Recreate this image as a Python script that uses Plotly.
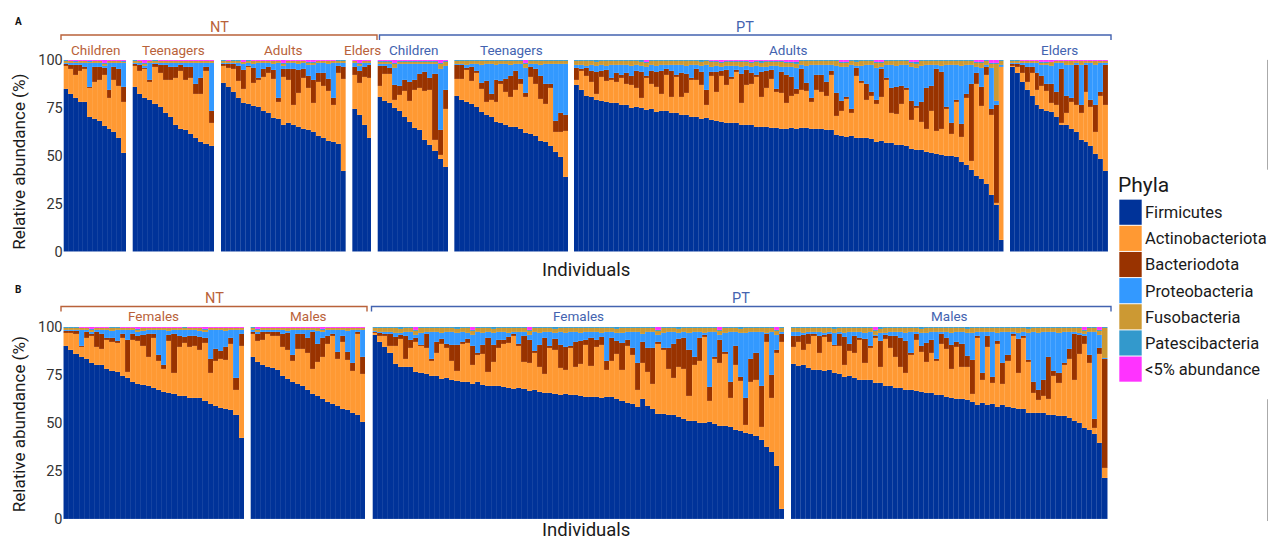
import plotly.graph_objects as go

# ---------------------------------------------------------------- data
PHYLA = ["Firmicutes", "Actinobacteriota", "Bacteriodota", "Proteobacteria",
         "Fusobacteria", "Patescibacteria", "<5% abundance"]
PHYLA_COLORS = ["#003399", "#FF9933", "#993300", "#3399FF", "#CC9933", "#3399CC", "#FF33FF"]

# Panel A: facets by cohort and age group
A_COHORTS = ["NT", "NT", "NT", "NT", "PT", "PT", "PT", "PT"]
A_GROUPS = ["Children", "Teenagers", "Adults", "Elders", "Children", "Teenagers", "Adults", "Elders"]

A_FIRMICUTES = [
    [85, 82, 80, 78, 78, 70, 69, 68, 66, 64, 62, 59, 51],
    [86, 82, 81, 79, 77, 75, 72, 70, 66, 64, 63, 61, 59, 57, 56, 55],
    [88, 86, 83, 80, 78, 77, 76, 75, 73, 72, 70, 69, 67, 67, 66, 65, 64, 64, 63, 60, 59, 58, 57, 56, 42],
    [74, 72, 66, 59],
    [80, 78, 77, 75, 73, 70, 67, 64, 63, 58, 55, 52, 48, 44],
    [81, 79, 78, 77, 75, 73, 71, 70, 68, 67, 66, 65, 65, 64, 63, 61, 60, 58, 57, 55, 52, 49, 39],
    [87, 85, 82, 81, 80, 79, 79, 78, 78, 77,
     77, 76, 76, 76, 75, 75, 74, 74, 74, 73,
     73, 72, 72, 71, 71, 70, 70, 70, 69, 69,
     68, 68, 68, 67, 67, 67, 66, 66, 66, 65,
     65, 65, 65, 65, 65, 64.5, 64.5, 64, 64, 64,
     63.5, 63.5, 61, 61, 60.5, 60, 60, 59.5, 59, 58.5,
     58, 58, 57, 56.5, 56, 55.5, 55, 54, 53.5, 53,
     52, 51.5, 51, 50.5, 50, 49.5, 49, 47, 45, 42.5,
     40, 38, 35, 30, 24, 6],
    [96, 93, 88, 84, 81, 76, 75, 74, 73, 70, 66, 66, 64, 62, 58, 57, 55, 51, 48, 42],
]
A_ACTINO = [
    [12, 13, 12, 16, 17, 15, 19, 21, 27, 16, 27, 27, 26],
    [11, 12, 15, 9, 19, 18, 17, 19, 24, 30, 26, 29, 23, 25, 38, 12],
    [9, 10, 12, 9, 7, 19, 12, 14, 18, 21, 20, 9, 25, 22, 10, 18, 26, 22, 15, 28, 27, 26, 19, 37, 48],
    [18, 17, 25, 31],
    [6, 14, 15, 4, 8, 13, 11, 20, 22, 25, 29, 6, 2, 30],
    [9, 11, 17, 12, 18, 12, 7, 9, 10, 20, 17, 16, 19, 23, 19, 30, 27, 22, 20, 30, 10, 13, 24],
    [3, 10, 11, 8, 3, 13, 11, 12, 11, 14,
     11, 12, 10, 5, 17, 13, 13, 9, 19, 8,
     19, 9, 12, 19, 19, 18, 7, 23, 15, 24,
     20, 23, 27, 12, 21, 22, 26, 16, 21, 26,
     19, 19, 14, 17, 18, 19.5, 19.5, 14, 20, 19,
     17.5, 28.5, 10, 13, 19.5, 12, 33, 28.5, 20, 22.5,
     20, 23, 33, 15.5, 16, 21.5, 29, 15, 22.5, 15,
     12, 21.5, 12, 13.5, 24, 11.5, 29, 13, 35, 4.5,
     48, 38, 57, 42, 1, 89],
    [1, 3, 5, 4, 12, 8, 12, 10, 5, 6, 1, 6, 14, 14, 14, 26, 20, 11, 33, 34],
]
A_BACTERIODOTA = [
    [1, 2, 5, 3, 1, 1, 8, 7, 4, 4, 7, 9, 8],
    [1, 3, 1, 1, 2, 4, 8, 7, 6, 3, 7, 6, 5, 8, 2, 6],
    [1, 2, 3, 8, 10, 1, 8, 1, 4, 3, 5, 2, 4, 6, 19, 12, 5, 6, 12, 5, 7, 6, 4, 4, 6],
    [4, 6, 5, 7],
    [10, 4, 3, 8, 5, 6, 10, 5, 7, 10, 6, 34, 13, 10],
    [7, 7, 1, 7, 1, 3, 11, 3, 12, 2, 7, 11, 10, 3, 2, 5, 8, 12, 10, 2, 6, 10, 8],
    [6, 1, 4, 6, 12, 3, 6, 1, 5, 2,
     6, 5, 9, 14, 1, 7, 8, 12, 3, 14,
     1, 13, 10, 1, 6, 7, 8, 2, 11, 3,
     8, 1, 1, 15, 8, 6, 1, 13, 9, 5,
     2, 11, 15, 10, 3, 11, 4, 2, 8, 9,
     7, 2, 12, 5, 1, 2, 4, 1, 8, 2,
     2, 15, 1, 13, 14, 9, 1, 10, 1, 10,
     21, 13, 32, 30, 1, 6, 1, 7, 2, 40,
     6, 10, 4, 3, 51, 0],
    [1, 2, 4, 8, 3, 9, 5, 4, 10, 7, 28, 9, 2, 21, 4, 14, 4, 14, 2, 21],
]
A_PROTEO = [
    [0.5, 1, 1, 1, 2, 12, 2, 2, 1, 14, 2, 3, 12],
    [0.5, 1, 1, 9, 0.5, 1, 1, 2, 2, 1, 2, 2, 11, 8, 2, 25],
    [0.5, 0.5, 0.5, 1.5, 3, 1.5, 2, 8, 3, 2, 3, 18, 2, 3, 3, 3, 3, 6, 8, 5, 5, 8, 18, 1.5, 2.5],
    [2, 3, 2, 1],
    [1, 1, 2, 9, 11, 8, 9, 8, 5, 4, 7, 5, 32, 12],
    [0.5, 0.5, 1.5, 1.5, 3.5, 9.5, 8.5, 15.5, 7.5, 8.5, 7.5, 5.5, 3.5, 7.5, 13.5, 1.5, 2.5, 5.5, 10.5, 10.5, 29.5, 25.5, 26.5],
    [1.5, 2, 1, 3, 3, 3, 2, 7, 4, 5,
     4, 5, 3, 3, 5, 3, 3, 3, 2, 3,
     5, 4, 4, 7, 2, 3, 13, 3, 3, 2,
     2, 6, 2, 4, 2, 3, 5, 3, 2, 2,
     12, 3, 4, 5, 11, 2, 9, 17, 5, 5,
     9, 3, 14, 18, 16, 23, 1, 8, 10, 14,
     17, 1, 7, 12, 11, 11, 12, 18, 20, 19,
     12, 11, 2, 3, 22, 30, 18, 30, 15, 10,
     3, 10, 1, 22, 2, 1],
    [0.5, 0.5, 1, 2, 2, 5, 6, 10, 9, 15, 3, 16, 17, 1, 21, 1, 19, 21, 15, 1],
]
A_FUSO = [
    [1, 1, 1, 1, 1, 1, 1, 1, 1, 1, 1, 1, 1],
    [1, 1, 1, 1, 1, 1, 1, 1, 1, 1, 1, 1, 1, 1, 1, 1],
    [1, 1, 1, 1, 1, 1, 1.5, 1, 1, 1, 1.5, 1, 1, 1, 1, 1.5, 1, 1, 1, 1, 1, 1.5, 1, 1, 1],
    [1, 1, 1, 1],
    [1.5, 1.5, 1.5, 2, 1.5, 1.5, 1.5, 1.5, 1.5, 1.5, 1.5, 1.5, 2.5, 2.5],
    [1.5, 1.5, 2, 1.5, 1.5, 2, 1.5, 1.5, 2, 1.5, 1.5, 2, 1.5, 1.5, 2, 1.5, 1.5, 2, 1.5, 1.5, 1.5, 1.5, 1.5],
    [2, 2, 2.5, 2, 2, 2, 2.5, 2, 2, 2,
     2, 2.5, 2, 2, 2, 2, 2.5, 2, 2, 2,
     2, 2, 2.5, 2, 2, 2, 2, 2.5, 2, 2,
     2, 2, 2, 2.5, 2, 2, 2, 2, 2.5, 2,
     2, 2.5, 2, 2, 2, 2, 2.5, 2, 2, 2,
     2, 2, 2.5, 2, 2, 2, 2, 2.5, 2, 2,
     2.5, 2, 2, 2, 2.5, 2, 2, 2, 2, 2.5,
     2, 2, 2, 2.5, 2, 2, 2, 2.5, 2, 2,
     2, 2.5, 2, 2, 19, 2],
    [1, 1, 1, 1, 1, 1, 1, 1, 2, 1, 1, 2, 2, 1, 2, 1, 1, 2, 1, 1],
]
A_PATESCI = [
    [0.3, 0.3, 0.5, 0.3, 0.3, 0.5, 0.3, 0.3, 0.5, 0.3, 0.3, 0.3, 0.5],
    [0.3, 0.3, 0.3, 0.3, 0.3, 0.3, 0.3, 0.3, 0.3, 0.3, 0.3, 0.3, 0.3, 0.3, 0.3, 0.3],
    [0.3, 0.3, 0.3, 0.3, 0.3, 0.3, 0.3, 0.3, 0.3, 0.3, 0.3, 0.3, 0.3, 0.3, 0.3, 0.3, 0.3, 0.3, 0.3, 0.3, 0.3, 0.3, 0.3, 0.3, 0.3],
    [0.3, 0.3, 0.3, 0.3],
    [0.5, 0.5, 0.5, 0.5, 0.5, 0.5, 0.5, 0.5, 0.5, 0.5, 0.5, 0.5, 0.5, 0.5],
    [0.5, 0.5, 0.5, 0.5, 0.5, 0.5, 0.5, 0.5, 0.5, 0.5, 0.5, 0.5, 0.5, 0.5, 0.5, 0.5, 0.5, 0.5, 0.5, 0.5, 0.5, 0.5, 0.5],
    [0.5, 0.5, 0.5, 0.5, 1, 0.5, 0.5, 0.5, 0.5, 0.5,
     0.5, 0.5, 0.5, 1, 0.5, 0.5, 0.5, 0.5, 0.5, 0.5,
     0.5, 0.5, 0.5, 0.5, 0.5, 1, 0.5, 0.5, 0.5, 0.5,
     0.5, 0.5, 0.5, 0.5, 0.5, 0.5, 0.5, 1, 0.5, 0.5,
     0.5, 0.5, 0.5, 0.5, 1, 0.5, 0.5, 0.5, 0.5, 0.5,
     0.5, 0.5, 0.5, 0.5, 0.5, 0.5, 1, 0.5, 0.5, 0.5,
     0.5, 0.5, 0.5, 0.5, 0.5, 0.5, 0.5, 0.5, 1, 0.5,
     0.5, 0.5, 0.5, 0.5, 0.5, 0.5, 0.5, 0.5, 0.5, 0.5,
     0.5, 0.5, 0.5, 0.5, 0.5, 0.5],
    [0.3, 0.3, 0.3, 0.3, 0.3, 0.3, 0.3, 0.3, 0.3, 0.3, 0.3, 0.3, 0.3, 0.3, 0.3, 0.3, 0.3, 0.3, 0.3, 0.3],
]
A_OTHER = [
    [0.1, 0.3, 0.3, 0.3, 0.3, 0.3, 0.3, 0.3, 1.5, 0.3, 0.3, 0.3, 0.3],
    [0.1, 0.3, 1.7, 0.3, 0.1, 0.3, 0.3, 0.3, 0.3, 0.3, 0.3, 0.3, 0.3, 0.3, 0.3, 0.3],
    [0.1, 0.3, 0.1, 0.1, 1, 0.1, 0.3, 0.3, 0.3, 0.3, 0.3, 0.3, 1.7, 0.3, 0.3, 0.3, 0.3, 1.2, 1.2, 0.3, 0.3, 0.3, 0.3, 0.1, 0.1],
    [0.3, 1.7, 0.3, 0.3],
    [0.3, 0.3, 0.3, 1.5, 0.3, 0.3, 0.3, 0.3, 0.3, 0.3, 0.3, 0.3, 1.5, 0.3],
    [0.2, 0.2, 0.2, 0.2, 0.2, 0.2, 0.2, 0.2, 0.2, 0.2, 0.2, 0.2, 0.2, 0.2, 1.5, 0.2, 0.2, 0.2, 0.2, 0.2, 0.2, 0.2, 0.2],
    [0.2, 0.2, 0.2, 0.2, 0.2, 0.2, 0.2, 0.2, 0.2, 0.2,
     0.2, 0.2, 0.2, 0.2, 1.2, 0.2, 0.2, 0.2, 0.2, 0.2,
     0.2, 0.2, 0.2, 0.2, 0.2, 0.2, 0.2, 0.6, 0.6, 1.2,
     0.6, 0.6, 0.6, 0.6, 0.6, 1.2, 0.6, 0.6, 0.6, 0.6,
     0.6, 0.6, 1.2, 1.2, 1.2, 0.2, 0.2, 0.2, 0.2, 0.2,
     0.2, 0.2, 0.2, 1.2, 1.2, 0.2, 0.2, 0.2, 0.2, 0.2,
     1.2, 1.2, 0.2, 0.2, 0.2, 0.2, 0.2, 1.2, 1.2, 0.2,
     0.2, 0.2, 0.2, 0.2, 0.2, 0.2, 0.2, 0.2, 0.2, 0.2,
     1.2, 1.2, 0.2, 1.5, 1.5, 0.2],
    [0.1, 0.1, 0.3, 0.3, 0.3, 0.3, 1.2, 1.2, 1, 0.3, 0.3, 0.3, 0.3, 0.3, 0.3, 0.3, 0.3, 0.3, 0.3, 0.3],
]

# Panel B: facets by cohort and sex
B_COHORTS = ["NT", "NT", "PT", "PT"]
B_GROUPS = ["Females", "Males", "Females", "Males"]

B_FIRMICUTES = [
    [90, 88, 86, 84, 83, 81.5, 80, 79.5, 78, 77.5,
     76.5, 74, 73, 71, 70.5, 70, 69, 68, 67, 66,
     65.5, 64.5, 64, 63.5, 63, 63, 62.5, 62, 59.5, 58.5,
     57.5, 57, 56, 54, 42],
    [84.5, 82.5, 80.5, 79.5, 78.5, 77.5, 74, 73, 71, 70,
     69, 67.5, 64.5, 64, 62.5, 60.5, 59.5, 58, 57, 56.5,
     54.5, 53.5, 50.5],
    [96, 93.5, 90, 86, 81.5, 79.5, 79, 78.5, 77.5, 76.5,
     75.5, 75, 74.5, 74, 73.5, 73, 72.5, 72, 72, 71.5,
     71.5, 70.5, 70, 69.5, 69.5, 69, 69, 68.5, 68.5, 68.5,
     68, 67.5, 66.5, 66, 65.5, 65.5, 65, 65, 64.5, 64.5,
     64, 64, 64, 63.8, 63.5, 63.5, 63.3, 63, 61.5, 60,
     59.5, 58, 57.5, 57, 57, 55.5, 55, 54.5, 54, 53.5,
     52, 51, 50.5, 50, 50, 49.5, 49.5, 49, 48.5, 48,
     46, 46, 45, 44, 43, 41, 38, 35, 28, 5],
    [81.5, 81, 81, 79, 78, 78, 78, 77.5, 76.5, 75.5,
     75, 74.5, 74, 73, 73, 72.5, 72, 71.5, 70.5, 69.5,
     68.5, 68.5, 68, 67.5, 67.5, 66.5, 66, 65.5, 65, 64.5,
     64, 63.3, 63, 62.5, 62.5, 61.5, 60, 60, 59.8, 59.5,
     59, 59, 58.5, 58, 58, 57.5, 56, 55.5, 55.5, 55,
     54.5, 54, 54, 53.5, 52.5, 51.5, 50.5, 48.5, 46, 44,
     40, 21],
]
B_ACTINO = [
    [7, 9, 10, 5, 11, 14, 9, 8, 15, 15,
     15, 20, 3, 22, 22, 20, 15, 26, 15, 12,
     27, 11, 25, 27, 26, 27, 25, 30, 16, 23,
     25, 25, 34, 13, 48],
    [12, 11, 13, 17, 17, 18, 15, 15, 11, 18,
     19, 19, 13, 18, 22, 30, 35, 24, 35, 26,
     22, 42, 25],
    [1, 3, 6, 4, 9, 15, 4, 10, 16, 14,
     14, 8, 12, 18, 16, 10, 5, 20, 21, 10,
     14, 16, 7, 13, 20, 23, 24, 28, 22, 14,
     15, 19, 13, 10, 24, 23, 14, 13, 25, 15,
     17, 27, 16, 26, 28, 14, 19, 24, 16, 30,
     25, 9, 17, 17, 13, 37, 33, 24, 19, 26,
     26, 13, 29, 32, 45, 11, 34, 33, 38, 15,
     34, 26, 4, 27, 29, 7, 56, 28, 60, 88],
    [9, 13, 8, 13, 18, 9, 18, 15, 14, 15,
     6, 13, 13, 21, 9, 17, 24, 8, 25, 20,
     16, 11, 9, 18, 27, 21, 16, 21, 18, 27,
     25, 15, 27, 17, 17, 4, 35, 12, 30, 11,
     33, 11, 24, 38, 19, 37, 27, 10, 7, 9,
     8, 20, 17, 27, 31, 22, 36, 45, 35, 3,
     47, 5],
]
B_BACTERIODOTA = [
    [1, 1, 2, 1, 3, 1, 8, 8, 1, 2,
     1, 2, 17, 3, 3, 6, 12, 2, 3, 2,
     3, 20, 6, 3, 6, 5, 7, 3, 7, 6,
     4, 7, 3, 6, 6],
    [1, 4, 4, 1, 2, 2, 7, 9, 3, 8,
     8, 8, 19, 9, 10, 4, 1, 4, 3, 4,
     4, 1, 9],
    [0.5, 1.5, 1, 6, 5, 2, 12, 4, 2, 1,
     7, 1, 6, 3, 2, 8, 14, 1, 2, 10,
     1, 5, 18, 9, 4, 2, 3, 1, 1, 14,
     12, 1, 12, 19, 1, 6, 12, 12, 1, 13,
     12, 3, 15, 4, 4, 5, 12, 7, 14, 3,
     4, 14, 10, 12, 19, 1, 1, 11, 18, 15,
     16, 24, 4, 12, 1, 7, 1, 12, 1, 8,
     10, 2, 14, 12, 14, 21, 4, 12, 2, 4],
    [6, 3, 8, 5, 1, 9, 1, 4, 1, 6,
     15, 4, 9, 1, 13, 1, 1, 14, 2, 6,
     11, 15, 17, 1, 3, 3, 10, 7, 1, 5,
     6, 13, 3, 12, 6, 18, 1, 4, 6, 3,
     2, 11, 3, 1, 18, 1, 1, 6, 5, 8,
     22, 3, 5, 1, 5, 24, 10, 4, 4, 5,
     3, 56],
]
B_PROTEO = [
    [0.5, 0.5, 0.5, 8, 1, 1, 1, 2, 4, 4,
     6, 2, 5, 2, 2, 2, 2, 2, 13, 18,
     2, 2, 3, 4, 3, 3, 3, 3, 15, 10,
     11, 8, 4, 25, 2],
    [1, 1, 1, 1, 1, 1, 2, 1, 13, 2,
     2, 4, 1, 7, 3, 3, 2, 11, 3, 11,
     17, 1, 14],
    [0.5, 0.5, 1, 1, 2, 1, 2, 4, 2, 6,
     1, 14, 5, 3, 6, 7, 6, 5, 3, 6,
     11, 6, 3, 6, 4, 4, 2, 1, 6, 2,
     3, 10, 6, 3, 7, 3, 7, 7, 7, 5,
     4, 4, 3, 4, 2, 15, 3, 4, 5, 4,
     8, 16, 4, 8, 8, 4, 8, 8, 6, 3,
     3, 9, 13, 3, 1, 28, 13, 3, 10, 26,
     7, 23, 34, 14, 11, 28, 0.5, 22, 8, 1],
    [2, 2, 1, 1, 1, 2, 1, 1, 6, 1,
     2, 6, 2, 3, 3, 7, 1, 4, 1, 2,
     2, 3, 4, 11, 1, 7, 5, 4, 14, 1,
     3, 6, 5, 6, 12, 14, 2, 21, 2, 23,
     4, 16, 12, 1, 3, 2, 14, 26, 30, 25,
     13, 20, 21, 16, 9, 1, 1, 1, 12, 45,
     7, 1],
]
B_FUSO = [
    [1, 1, 1, 1, 1, 1, 1, 1, 1, 1.5,
     1, 1, 1, 1, 1, 1.5, 1, 1, 1, 1,
     1.5, 1, 1, 1, 1, 1, 1.5, 1, 1, 1,
     1, 1.5, 1, 1, 1],
    [1, 1, 1, 1, 1, 1, 1, 1.5, 1, 1,
     1, 1, 1, 1.5, 1, 1, 1, 1, 1, 1.5,
     1, 1, 1],
    [1.5, 2, 2, 2, 2.5, 2, 2, 2, 2, 2.5,
     2, 2, 2, 2.5, 2, 2, 2, 2, 2.5, 2,
     2, 2.5, 2, 2, 2, 2, 2.5, 2, 2, 2,
     2, 2, 2.5, 2, 2, 2, 2, 2.5, 2, 2,
     2.5, 2, 2, 2, 2.5, 2, 2, 2, 2.5, 2,
     2, 2, 2.5, 2, 2, 2, 2.5, 2, 2, 2,
     2, 2.5, 2, 2, 2.5, 2, 2, 2, 2.5, 2,
     2, 2, 2.5, 2, 2, 2, 2.5, 2, 2, 2],
    [2, 2, 2.5, 2, 2, 2, 2.5, 2, 2, 2,
     2.5, 2, 2, 2, 2.5, 2, 2, 2, 2.5, 2,
     2, 2, 2.5, 2, 2, 2, 2.5, 2, 2, 2,
     2, 2.5, 2, 2, 2, 2.5, 2, 2, 2, 2,
     2.5, 2, 2, 2, 2.5, 2, 2, 2, 2.5, 2,
     2, 2, 2.5, 2, 2, 2, 2.5, 2, 2, 2,
     2, 15],
]
B_PATESCI = [
    [0.3, 0.3, 0.3, 0.3, 0.3, 0.3, 0.3, 0.3, 0.3, 0.3,
     0.3, 0.3, 0.3, 0.3, 0.3, 0.3, 0.3, 0.3, 0.3, 0.3,
     0.3, 0.3, 0.3, 0.3, 0.3, 0.3, 0.3, 0.3, 0.3, 0.3,
     0.3, 0.3, 0.3, 0.3, 0.3],
    [0.3, 0.3, 0.3, 0.3, 0.3, 0.3, 0.3, 0.3, 0.3, 0.3,
     0.3, 0.3, 0.3, 0.3, 0.3, 0.3, 0.3, 0.3, 0.3, 0.3,
     0.3, 0.3, 0.3],
    [0.5, 0.5, 0.5, 0.5, 0.5, 1, 0.5, 0.5, 0.5, 0.5,
     0.5, 0.5, 0.5, 0.5, 0.5, 0.5, 1, 0.5, 0.5, 0.5,
     0.5, 0.5, 0.5, 1, 0.5, 0.5, 0.5, 0.5, 0.5, 0.5,
     0.5, 0.5, 0.5, 0.5, 0.5, 1, 0.5, 0.5, 0.5, 0.5,
     0.5, 0.5, 0.5, 0.5, 0.5, 0.5, 0.5, 1, 0.5, 0.5,
     0.5, 0.5, 0.5, 0.5, 0.5, 0.5, 0.5, 0.5, 0.5, 1,
     0.5, 0.5, 0.5, 0.5, 0.5, 0.5, 0.5, 0.5, 0.5, 0.5,
     0.5, 1, 0.5, 0.5, 0.5, 0.5, 0.5, 0.5, 0.5, 0.5],
    [0.5, 0.5, 0.5, 0.5, 0.5, 0.5, 0.5, 0.5, 1, 0.5,
     0.5, 0.5, 0.5, 0.5, 0.5, 0.5, 0.5, 1, 0.5, 0.5,
     0.5, 0.5, 0.5, 0.5, 0.5, 1, 0.5, 0.5, 0.5, 0.5,
     0.5, 0.5, 0.5, 0.5, 1, 0.5, 0.5, 0.5, 0.5, 0.5,
     0.5, 0.5, 0.5, 0.5, 0.5, 0.5, 1, 0.5, 0.5, 0.5,
     0.5, 0.5, 0.5, 0.5, 0.5, 0.5, 0.5, 0.5, 0.5, 0.5,
     0.5, 0.5],
]
B_OTHER = [
    [0.1, 0.1, 0.1, 0.3, 0.3, 1.2, 0.3, 0.3, 0.3, 0.1,
     0.1, 0.3, 0.3, 0.3, 1.2, 0.3, 0.3, 0.3, 0.3, 0.3,
     0.3, 0.3, 0.3, 0.1, 0.3, 0.3, 0.3, 1.2, 0.3, 0.3,
     0.3, 0.3, 0.3, 0.3, 0.3],
    [0.1, 1.2, 0.3, 0.3, 0.3, 0.3, 0.3, 0.3, 0.3, 0.3,
     0.3, 0.3, 0.3, 0.3, 1.2, 0.3, 0.3, 0.3, 0.3, 0.3,
     0.3, 0.3, 0.3],
    [0.2, 0.2, 0.2, 0.2, 0.2, 0.2, 0.2, 0.2, 1.5, 0.2,
     0.2, 0.2, 0.2, 0.2, 0.2, 0.2, 0.2, 0.2, 0.2, 1.5,
     0.2, 0.2, 0.2, 0.2, 0.2, 0.2, 0.2, 0.2, 0.2, 0.2,
     1.5, 0.2, 0.2, 0.2, 0.2, 0.2, 0.2, 0.2, 0.2, 0.2,
     0.2, 0.2, 0.2, 0.2, 0.2, 0.2, 0.2, 0.2, 0.2, 0.2,
     0.2, 0.2, 0.2, 0.2, 0.2, 1.5, 0.2, 0.2, 0.2, 0.2,
     0.2, 0.2, 0.2, 0.2, 0.2, 0.2, 0.2, 1.5, 0.2, 0.2,
     0.2, 0.2, 0.2, 0.2, 0.2, 0.2, 0.2, 0.2, 1.5, 0.2],
    [0.2, 0.2, 0.2, 0.2, 0.2, 0.2, 0.2, 0.2, 0.2, 0.2,
     0.2, 0.2, 0.2, 0.2, 0.2, 0.2, 1.5, 0.2, 0.2, 0.2,
     0.2, 0.2, 0.2, 0.2, 0.2, 0.2, 0.2, 0.2, 0.2, 0.2,
     0.2, 0.2, 0.2, 0.2, 0.2, 0.2, 0.2, 0.2, 0.2, 0.2,
     0.2, 0.2, 0.2, 0.2, 0.2, 0.2, 0.2, 0.2, 0.2, 0.2,
     0.2, 0.2, 0.2, 0.2, 0.2, 0.2, 0.2, 1.5, 0.2, 0.2,
     1.5, 0.2],
]

A_SERIES = [A_FIRMICUTES, A_ACTINO, A_BACTERIODOTA, A_PROTEO, A_FUSO, A_PATESCI, A_OTHER]
B_SERIES = [B_FIRMICUTES, B_ACTINO, B_BACTERIODOTA, B_PROTEO, B_FUSO, B_PATESCI, B_OTHER]

# ---------------------------------------------------------------- layout geometry (pixels)
W, H = 1270, 543
# vertical placement: the page shows the figure in a band from y=8 to y=535
Y_TOP, Y_SPAN = 8.0, 527.0
def fx(p):
    return p / W
def fy(p):
    return 1 - (p - Y_TOP) / Y_SPAN

A_DOM = [(63.7, 126.7), (132.7, 214.3), (221, 345.7), (352.3, 371.7),
         (377.7, 448.3), (454.3, 568), (574, 1003.5), (1010, 1108)]
B_DOM = [(63.5, 244.3), (250.7, 366), (372.7, 785), (791, 1107.5)]
A_Y = (60, 252)
B_Y = (327.7, 520)

NT_COLOR = "#B9623A"
PT_COLOR = "#4363B0"
FONT = "Roboto, Arial, sans-serif"

fig = go.Figure()
layout_axes = {}
annotations = []
shapes = []
ax_i = 0

panels = [
    ("y", A_Y, A_DOM, A_COHORTS, A_GROUPS, A_SERIES, 50),
    ("y2", B_Y, B_DOM, B_COHORTS, B_GROUPS, B_SERIES, 317),
]
first_x = {}
for yname, ypx, doms, cohorts, groups, series, strip_y in panels:
    for fi, dom in enumerate(doms):
        ax_i += 1
        xname = "x" if ax_i == 1 else f"x{ax_i}"
        xkey = "xaxis" if ax_i == 1 else f"xaxis{ax_i}"
        if yname not in first_x:
            first_x[yname] = xname
        n = len(series[0][fi])
        for k, ph in enumerate(PHYLA):
            vals = series[k][fi]
            if len(vals) != n:
                raise ValueError(f"length mismatch {yname} facet {fi} {ph}: {len(vals)} vs {n}")
            fig.add_trace(go.Bar(
                x=list(range(n)), y=vals, name=ph, xaxis=xname, yaxis=yname,
                width=1.0, showlegend=False, hoverinfo="skip",
                marker=dict(color=PHYLA_COLORS[k],
                            line=dict(width=0.5, color="rgba(255,255,255,0.16)")),
            ))
        layout_axes[xkey] = dict(domain=[fx(dom[0]), fx(dom[1])], range=[-0.5, n - 0.5],
                                 visible=False, anchor=yname, fixedrange=True)
        col = NT_COLOR if cohorts[fi] == "NT" else PT_COLOR
        annotations.append(dict(x=fx((dom[0] + dom[1]) / 2), y=fy(strip_y), xref="paper", yref="paper",
                                text=groups[fi], showarrow=False, xanchor="center", yanchor="middle",
                                font=dict(family=FONT, size=13.5, color=col)))

for yname, ypx in (("y", A_Y), ("y2", B_Y)):
    ykey = "yaxis" if yname == "y" else "yaxis2"
    layout_axes[ykey] = dict(domain=[fy(ypx[1]), fy(ypx[0])], range=[0, 100], anchor=first_x[yname],
                             tickvals=[0, 25, 50, 75, 100], showgrid=False, zeroline=False,
                             showline=False, ticks="", fixedrange=True,
                             tickfont=dict(family=FONT, size=14.5, color="#333333"))

# cohort brackets and labels
brackets = [
    (61, 377, 35, "NT", NT_COLOR),
    (379.5, 1111, 35, "PT", PT_COLOR),
    (61, 367, 307, "NT", NT_COLOR),
    (371.5, 1111, 307, "PT", PT_COLOR),
]
for x0, x1, yb, lab, col in brackets:
    path = (f"M {fx(x0)},{fy(yb + 5)} L {fx(x0)},{fy(yb)} "
            f"L {fx(x1)},{fy(yb)} L {fx(x1)},{fy(yb + 5)}")
    shapes.append(dict(type="path", path=path, xref="paper", yref="paper",
                       line=dict(color=col, width=1.4)))
    annotations.append(dict(x=fx((x0 + x1) / 2), y=fy(yb - 7.5), xref="paper", yref="paper",
                            text=lab, showarrow=False, xanchor="center", yanchor="middle",
                            font=dict(family=FONT, size=14.5, color=col)))

# panel letters
for lab, yy in (("A", 22), ("B", 290)):
    annotations.append(dict(x=fx(13), y=fy(yy), xref="paper", yref="paper", text=f"<b>{lab}</b>",
                            showarrow=False, xanchor="left", yanchor="middle",
                            font=dict(family=FONT, size=10, color="#111111")))

# axis titles
for ymid in (162, 425):
    annotations.append(dict(x=fx(19), y=fy(ymid), xref="paper", yref="paper",
                            text="Relative abundance (%)", textangle=-90, showarrow=False,
                            xanchor="center", yanchor="middle",
                            font=dict(family=FONT, size=17, color="#1a1a1a")))
for ymid in (270, 530.5):
    annotations.append(dict(x=fx(586), y=fy(ymid), xref="paper", yref="paper",
                            text="Individuals", showarrow=False, xanchor="center", yanchor="middle",
                            font=dict(family=FONT, size=18.5, color="#1a1a1a")))

# legend (drawn)
annotations.append(dict(x=fx(1116), y=fy(185), xref="paper", yref="paper", text="Phyla",
                        showarrow=False, xanchor="left", yanchor="middle",
                        font=dict(family=FONT, size=21, color="#1a1a1a")))
for k, ph in enumerate(PHYLA):
    top = 200 + 26.2 * k
    shapes.append(dict(type="rect", xref="paper", yref="paper",
                       x0=fx(1119.3), x1=fx(1141.7), y0=fy(top + 25.2), y1=fy(top),
                       fillcolor=PHYLA_COLORS[k], line=dict(width=0)))
    annotations.append(dict(x=fx(1142.5), y=fy(top + 13), xref="paper", yref="paper", text=ph,
                            showarrow=False, xanchor="left", yanchor="middle",
                            font=dict(family=FONT, size=16.5, color="#1a1a1a")))

# faint vertical rule at the right edge
for y0, y1 in ((60, 170), (400, 522)):
    shapes.append(dict(type="line", xref="paper", yref="paper", x0=fx(1267.5), x1=fx(1267.5),
                       y0=fy(y1), y1=fy(y0), line=dict(color="#AAAAAA", width=1)))

fig.update_layout(
    width=W, height=H, autosize=False, margin=dict(l=0, r=0, t=0, b=0, pad=0),
    paper_bgcolor="white", plot_bgcolor="white",
    barmode="stack", barnorm="percent", bargap=0,
    showlegend=False, annotations=annotations, shapes=shapes,
    font=dict(family=FONT),
    **layout_axes,
)

POST = (
    "document.documentElement.style.margin='0px';"
    "document.documentElement.style.overflow='hidden';"
    "document.body.style.margin='0px';"
    "document.body.style.overflow='hidden';"
    "var gd=document.getElementById('{plot_id}');"
    "Plotly.relayout(gd,{width:1270,height:543});"
)
fig.write_html("out.html", post_script=POST,
               config={"displayModeBar": False, "responsive": False})
